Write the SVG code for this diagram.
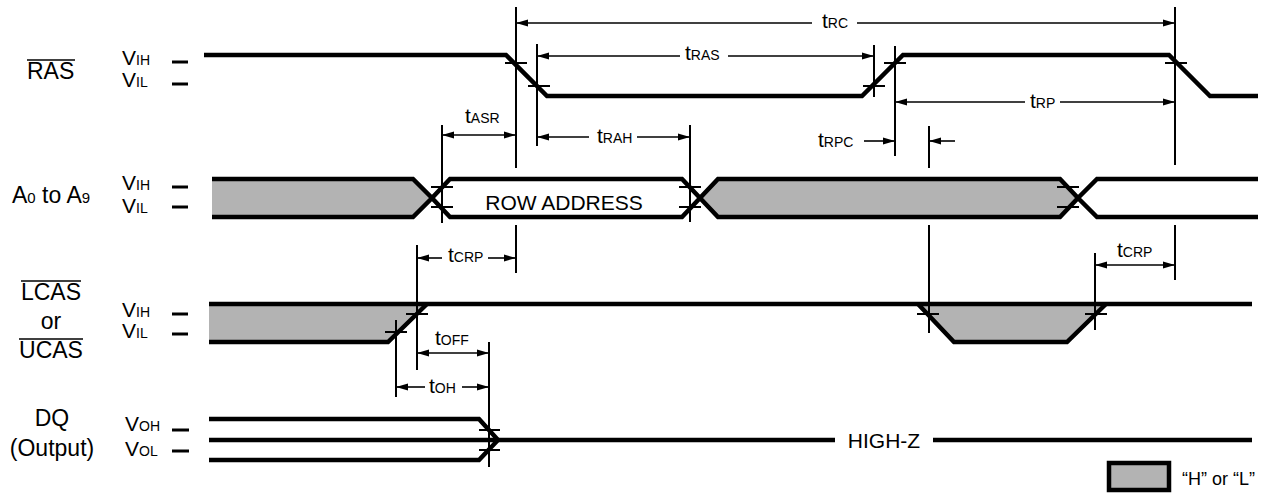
<svg xmlns="http://www.w3.org/2000/svg" width="1278" height="496" viewBox="0 0 1278 496">
<defs>
<marker id="ah" markerUnits="userSpaceOnUse" markerWidth="12" markerHeight="8" refX="12" refY="4" orient="auto-start-reverse" viewBox="0 0 12 8"><path d="M0,0.5 L12,4 L0,7.5 z" fill="#000"/></marker>
</defs>
<style>
text{font-family:"Liberation Sans",Arial,sans-serif;fill:#000}
.lb{font-size:23px}
.v{font-size:21px}
.s{font-size:14px}
.s2{font-size:15px}
.sig{fill:none;stroke:#000;stroke-width:4.5;stroke-linejoin:miter}
.gf{fill:#b3b3b3;stroke:none}
.vl{stroke:#000;stroke-width:2;fill:none}
.tk{stroke:#000;stroke-width:2}
.dash{stroke:#000;stroke-width:3}
.ar{stroke:#000;stroke-width:1.6;fill:none}
.a1{marker-start:url(#ah)}
.a2{marker-end:url(#ah)}
.ol{stroke:#000;stroke-width:1.5}
</style>
<rect width="1278" height="496" fill="#fff"/>

<g id="ras">
<text class="lb" x="27" y="79">RAS</text>
<line class="ol" x1="27" y1="60" x2="75" y2="60"/>
<text x="122" y="65"><tspan class="v">V</tspan><tspan class="s">IH</tspan></text>
<text x="122" y="87"><tspan class="v">V</tspan><tspan class="s">IL</tspan></text>
<line class="dash" x1="172" y1="62" x2="188" y2="62"/>
<line class="dash" x1="172" y1="84" x2="188" y2="84"/>
<polyline class="sig" points="204,55 506,55 547,96 862,96 903,55 1169,55 1210,96 1258,96"/>
<line class="tk" x1="505" y1="63" x2="527" y2="63"/>
<line class="tk" x1="528" y1="86" x2="550" y2="86"/>
<line class="tk" x1="863" y1="86" x2="885" y2="86"/>
<line class="tk" x1="884" y1="63" x2="906" y2="63"/>
<line class="tk" x1="1165" y1="63" x2="1187" y2="63"/>
</g>

<g id="addr">
<text class="lb" x="12" y="203"><tspan>A</tspan><tspan class="s2">0</tspan><tspan> to A</tspan><tspan class="s2">9</tspan></text>
<text x="122" y="190"><tspan class="v">V</tspan><tspan class="s">IH</tspan></text>
<text x="122" y="213"><tspan class="v">V</tspan><tspan class="s">IL</tspan></text>
<line class="dash" x1="172" y1="187" x2="188" y2="187"/>
<line class="dash" x1="172" y1="207" x2="188" y2="207"/>
<polygon class="gf" points="212,179 413,179 432,198 413,217 212,217"/>
<polyline class="sig" points="212,179 413,179 432,198 413,217 212,217"/>
<polygon class="sig" style="fill:#fff" points="450,179 682,179 700,198 682,217 450,217 432,198"/>
<text x="564" y="210" text-anchor="middle" style="font-size:21px">ROW ADDRESS</text>
<polygon class="sig" style="fill:#b3b3b3" points="718,179 1060,179 1078,198 1060,217 718,217 700,198"/>
<polyline class="sig" points="1258,179 1097,179 1078,198 1097,217 1258,217"/>
<line class="tk" x1="431" y1="187" x2="453" y2="187"/>
<line class="tk" x1="431" y1="207" x2="453" y2="207"/>
<line class="tk" x1="679" y1="187" x2="701" y2="187"/>
<line class="tk" x1="679" y1="207" x2="701" y2="207"/>
<line class="tk" x1="1057" y1="187" x2="1079" y2="187"/>
<line class="tk" x1="1057" y1="207" x2="1079" y2="207"/>
</g>

<g id="cas">
<text class="lb" x="51" y="300" text-anchor="middle">LCAS</text>
<line class="ol" x1="21" y1="281" x2="81" y2="281"/>
<text class="lb" x="51" y="329" text-anchor="middle">or</text>
<text class="lb" x="51" y="358" text-anchor="middle">UCAS</text>
<line class="ol" x1="19" y1="339" x2="83" y2="339"/>
<text x="122" y="317"><tspan class="v">V</tspan><tspan class="s">IH</tspan></text>
<text x="122" y="338"><tspan class="v">V</tspan><tspan class="s">IL</tspan></text>
<line class="dash" x1="172" y1="314" x2="188" y2="314"/>
<line class="dash" x1="172" y1="334" x2="188" y2="334"/>
<polygon class="gf" points="209,304 427,304 388,342 209,342"/>
<polygon class="gf" points="918,304 954,342 1067,342 1106,304"/>
<polyline class="sig" points="209,304 1252,304"/>
<polyline class="sig" points="209,342 388,342 427,304"/>
<polyline class="sig" points="918,304 954,342 1067,342 1106,304"/>
<line class="tk" x1="406" y1="314" x2="428" y2="314"/>
<line class="tk" x1="385" y1="332" x2="407" y2="332"/>
<line class="tk" x1="917" y1="314" x2="939" y2="314"/>
<line class="tk" x1="1085" y1="314" x2="1107" y2="314"/>
</g>

<g id="dq">
<text class="lb" x="52" y="426" text-anchor="middle">DQ</text>
<text class="lb" x="52" y="456" text-anchor="middle">(Output)</text>
<text x="125" y="431"><tspan class="v">V</tspan><tspan class="s">OH</tspan></text>
<text x="125" y="456"><tspan class="v">V</tspan><tspan class="s">OL</tspan></text>
<line class="dash" x1="172" y1="430" x2="189" y2="430"/>
<line class="dash" x1="172" y1="451" x2="189" y2="451"/>
<polyline class="sig" points="209,419 479,419 498,440"/>
<polyline class="sig" points="209,460 479,460 498,440"/>
<line class="sig" x1="209" y1="440" x2="835" y2="440"/>
<line class="sig" x1="933" y1="440" x2="1252" y2="440"/>
<text x="884" y="448" text-anchor="middle" style="font-size:21px">HIGH-Z</text>
<line class="tk" x1="479" y1="430" x2="500" y2="430"/>
<line class="tk" x1="479" y1="450" x2="500" y2="450"/>
</g>

<g id="legend">
<rect x="1109" y="463" width="60" height="27" fill="#b3b3b3" stroke="#000" stroke-width="4.5"/>
<text x="1182" y="485" style="font-size:18px">“H” or “L”</text>
</g>

<g id="connectors">
<line class="vl" x1="516" y1="7" x2="516" y2="168"/>
<line class="vl" x1="516" y1="225" x2="516" y2="273"/>
<line class="vl" x1="537" y1="44" x2="537" y2="146"/>
<line class="vl" x1="442" y1="125" x2="442" y2="223"/>
<line class="vl" x1="690" y1="125" x2="690" y2="222"/>
<line class="vl" x1="874" y1="45" x2="874" y2="97"/>
<line class="vl" x1="895" y1="46" x2="895" y2="156"/>
<line class="vl" x1="929" y1="126" x2="929" y2="168"/>
<line class="vl" x1="929" y1="225" x2="929" y2="333"/>
<line class="vl" x1="1175" y1="7" x2="1175" y2="165"/>
<line class="vl" x1="1175" y1="225" x2="1175" y2="280"/>
<line class="vl" x1="417" y1="245" x2="417" y2="370"/>
<line class="vl" x1="396" y1="320" x2="396" y2="397"/>
<line class="vl" x1="489" y1="342" x2="489" y2="467"/>
<line class="vl" x1="1095" y1="253" x2="1095" y2="330"/>

<line class="ar a1" x1="516" y1="23" x2="812" y2="23"/>
<line class="ar a2" x1="857" y1="23" x2="1175" y2="23"/>
<text x="822" y="28"><tspan class="v">t</tspan><tspan class="s">RC</tspan></text>

<line class="ar a1" x1="537" y1="56" x2="680" y2="56"/>
<line class="ar a2" x1="728" y1="56" x2="874" y2="56"/>
<text x="685" y="60"><tspan class="v">t</tspan><tspan class="s">RAS</tspan></text>

<line class="ar a1" x1="895" y1="102" x2="1025" y2="102"/>
<line class="ar a2" x1="1060" y1="102" x2="1175" y2="102"/>
<text x="1030" y="108"><tspan class="v">t</tspan><tspan class="s">RP</tspan></text>

<line class="ar a1 a2" x1="442" y1="135" x2="516" y2="135"/>
<text x="465" y="123"><tspan class="v">t</tspan><tspan class="s">ASR</tspan></text>

<line class="ar a1" x1="537" y1="137" x2="589" y2="137"/>
<line class="ar a2" x1="637" y1="137" x2="690" y2="137"/>
<text x="597" y="143"><tspan class="v">t</tspan><tspan class="s">RAH</tspan></text>

<line class="ar a2" x1="864" y1="141" x2="895" y2="141"/>
<line class="ar a2" x1="955" y1="141" x2="929" y2="141"/>
<text x="818" y="147"><tspan class="v">t</tspan><tspan class="s">RPC</tspan></text>

<line class="ar a1" x1="417" y1="258" x2="442" y2="258"/>
<line class="ar a2" x1="488" y1="258" x2="516" y2="258"/>
<text x="448" y="262"><tspan class="v">t</tspan><tspan class="s">CRP</tspan></text>

<line class="ar a1 a2" x1="1095" y1="265" x2="1175" y2="265"/>
<text x="1117" y="257"><tspan class="v">t</tspan><tspan class="s">CRP</tspan></text>

<line class="ar a1 a2" x1="417" y1="353" x2="489" y2="353"/>
<text x="435" y="345"><tspan class="v">t</tspan><tspan class="s">OFF</tspan></text>

<line class="ar a1" x1="396" y1="387" x2="425" y2="387"/>
<line class="ar a2" x1="462" y1="387" x2="489" y2="387"/>
<text x="429" y="393"><tspan class="v">t</tspan><tspan class="s">OH</tspan></text>
</g>
</svg>
